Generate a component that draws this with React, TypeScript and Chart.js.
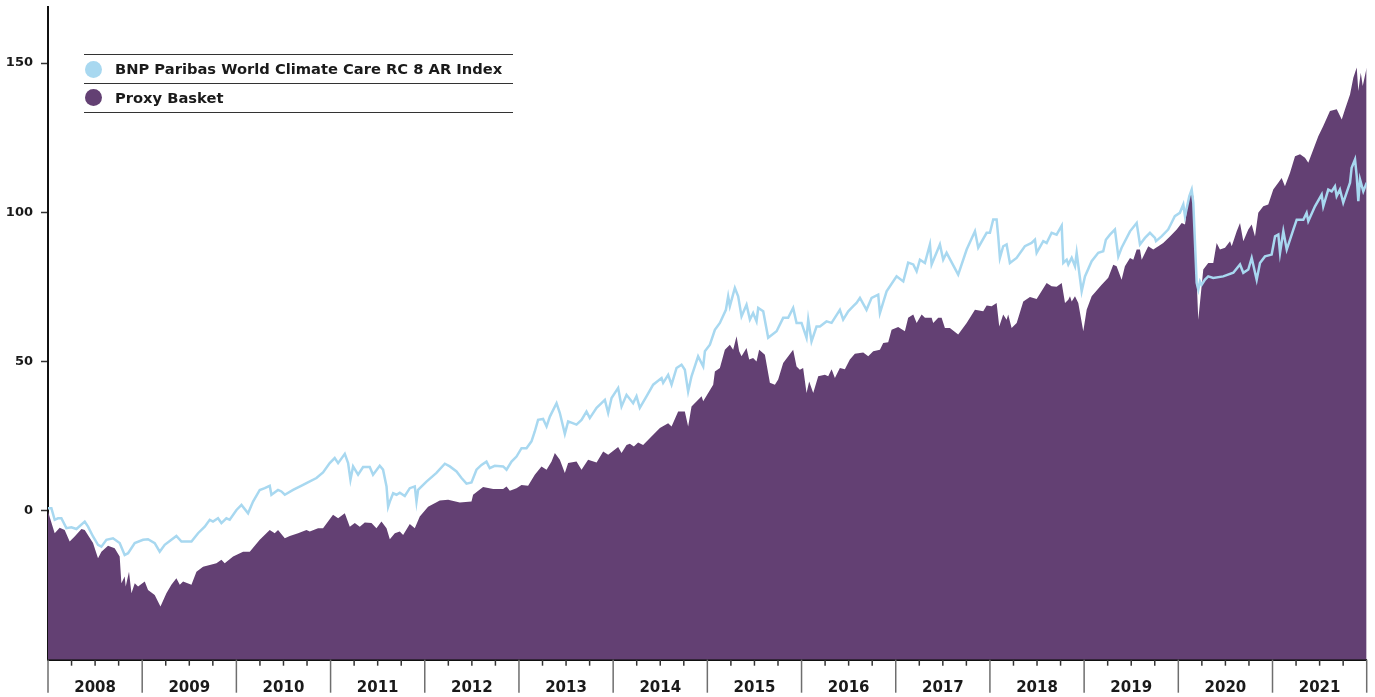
import React, { useEffect, useRef } from "react";
import { Chart, registerables } from "chart.js";

Chart.register(...registerables);

const seriesNames = ["BNP Paribas World Climate Care RC 8 AR Index", "Proxy Basket"];
const yTickValues = [0, 50, 100, 150];
const yearLabels = ["2008", "2009", "2010", "2011", "2012", "2013", "2014", "2015", "2016", "2017", "2018", "2019", "2020", "2021"];

const proxyDates = [
  2008.0, 2008.071, 2008.124, 2008.177, 2008.23, 2008.283, 2008.355, 2008.39, 2008.478, 2008.531,
  2008.567, 2008.637, 2008.708, 2008.761, 2008.779, 2008.814, 2008.825, 2008.86, 2008.886, 2008.921,
  2008.956, 2009.027, 2009.062, 2009.133, 2009.194, 2009.257, 2009.31, 2009.363, 2009.399, 2009.434,
  2009.523, 2009.576, 2009.646, 2009.788, 2009.841, 2009.876, 2009.965, 2010.071, 2010.142, 2010.248,
  2010.354, 2010.407, 2010.442, 2010.514, 2010.567, 2010.655, 2010.744, 2010.779, 2010.867, 2010.92,
  2011.026, 2011.08, 2011.151, 2011.204, 2011.257, 2011.31, 2011.363, 2011.434, 2011.487, 2011.54,
  2011.594, 2011.629, 2011.682, 2011.735, 2011.77, 2011.841, 2011.894, 2011.947, 2012.035, 2012.16,
  2012.248, 2012.372, 2012.496, 2012.513, 2012.619, 2012.726, 2012.832, 2012.868, 2012.903, 2012.974,
  2013.027, 2013.097, 2013.168, 2013.239, 2013.293, 2013.346, 2013.381, 2013.434, 2013.487, 2013.522,
  2013.611, 2013.664, 2013.734, 2013.824, 2013.894, 2013.947, 2014.053, 2014.089, 2014.142, 2014.177,
  2014.22, 2014.265, 2014.318, 2014.425, 2014.496, 2014.584, 2014.62, 2014.69, 2014.761, 2014.796,
  2014.832, 2014.939, 2014.956, 2015.009, 2015.062, 2015.08, 2015.133, 2015.186, 2015.239, 2015.274,
  2015.31, 2015.338, 2015.363, 2015.416, 2015.444, 2015.486, 2015.522, 2015.55, 2015.611, 2015.664,
  2015.717, 2015.752, 2015.805, 2015.911, 2015.947, 2015.982, 2016.017, 2016.053, 2016.081, 2016.124,
  2016.177, 2016.248, 2016.283, 2016.319, 2016.354, 2016.407, 2016.46, 2016.513, 2016.566, 2016.655,
  2016.708, 2016.761, 2016.832, 2016.867, 2016.92, 2016.956, 2017.026, 2017.097, 2017.132, 2017.186,
  2017.222, 2017.275, 2017.31, 2017.381, 2017.398, 2017.451, 2017.487, 2017.522, 2017.575, 2017.663,
  2017.753, 2017.841, 2017.929, 2017.965, 2018.018, 2018.071, 2018.099, 2018.141, 2018.177, 2018.194,
  2018.23, 2018.284, 2018.354, 2018.425, 2018.496, 2018.602, 2018.655, 2018.708, 2018.762, 2018.797,
  2018.832, 2018.85, 2018.868, 2018.903, 2018.938, 2018.991, 2019.027, 2019.08, 2019.186, 2019.256,
  2019.309, 2019.345, 2019.398, 2019.433, 2019.487, 2019.522, 2019.558, 2019.593, 2019.611, 2019.681,
  2019.734, 2019.788, 2019.84, 2019.911, 2019.983, 2020.036, 2020.071, 2020.106, 2020.142, 2020.159,
  2020.212, 2020.265, 2020.318, 2020.371, 2020.407, 2020.442, 2020.496, 2020.549, 2020.567, 2020.62,
  2020.655, 2020.69, 2020.743, 2020.779, 2020.814, 2020.849, 2020.902, 2020.955, 2021.008, 2021.061,
  2021.097, 2021.132, 2021.186, 2021.239, 2021.292, 2021.345, 2021.38, 2021.433, 2021.486, 2021.539,
  2021.61, 2021.682, 2021.735, 2021.77, 2021.823, 2021.858, 2021.894, 2021.911, 2021.937, 2021.958,
  2022.0,
];
const proxyValues = [
  -0.3, -7.6, -5.8, -6.5, -10.4, -8.7, -6.2, -6.5, -10.9, -16.0,
  -13.8, -11.8, -12.6, -15.4, -24.4, -22.1, -25.5, -20.5, -27.7, -24.4,
  -25.5, -23.8, -26.6, -28.3, -32.2, -27.7, -24.9, -22.7, -24.9, -23.8,
  -24.9, -20.5, -18.8, -17.7, -16.5, -17.7, -15.4, -13.8, -13.8, -9.8,
  -6.5, -7.6, -6.5, -9.3, -8.5, -7.6, -6.5, -7.0, -5.9, -5.9,
  -1.4, -2.6, -0.9, -5.4, -4.2, -5.4, -4.0, -4.2, -5.9, -3.7,
  -5.9, -9.6, -7.6, -7.0, -8.2, -4.5, -5.9, -2.0, 1.3, 3.4,
  3.6, 2.7, 3.0, 5.3, 7.9, 7.2, 7.2, 8.1, 6.6, 7.5,
  8.6, 8.3, 12.0, 14.8, 13.7, 16.4, 19.3, 17.0, 12.6, 15.9,
  16.4, 13.7, 17.0, 16.1, 19.8, 18.7, 21.3, 19.3, 22.0, 22.4,
  21.5, 22.8, 22.0, 25.4, 27.7, 29.3, 28.2, 33.2, 33.2, 28.2,
  34.9, 38.3, 36.6, 39.4, 42.2, 46.6, 47.8, 53.9, 55.6, 53.9,
  58.4, 53.4, 51.7, 54.5, 50.6, 51.1, 50.0, 53.9, 52.2, 42.8,
  42.2, 43.9, 49.5, 53.9, 48.3, 47.2, 47.8, 39.4, 43.3, 39.4,
  45.0, 45.5, 45.0, 47.4, 44.4, 47.8, 47.4, 50.6, 52.6, 53.0,
  51.7, 53.4, 53.9, 56.2, 56.4, 60.6, 61.5, 60.1, 64.6, 65.7,
  62.9, 65.7, 64.6, 64.6, 62.9, 64.6, 64.6, 61.2, 61.2, 59.0,
  62.9, 67.3, 66.8, 68.7, 68.5, 69.6, 61.7, 65.7, 64.0, 65.7,
  61.2, 62.9, 70.1, 71.6, 70.9, 76.3, 75.2, 75.0, 76.3, 69.6,
  70.7, 71.8, 70.1, 71.8, 69.6, 60.1, 67.3, 71.8, 75.7, 78.0,
  82.4, 81.9, 77.4, 81.9, 84.7, 84.1, 87.5, 87.5, 84.1, 88.6,
  87.5, 88.6, 89.7, 91.9, 94.2, 96.4, 95.9, 104.3, 107.6, 105.4,
  64.0, 80.8, 83.0, 83.0, 89.7, 87.5, 88.1, 90.3, 88.6, 93.6,
  96.4, 90.3, 94.2, 95.9, 91.9, 99.8, 102.0, 102.6, 107.6, 109.9,
  111.5, 108.7, 113.2, 118.8, 119.4, 118.3, 116.6, 121.0, 125.5, 128.9,
  133.9, 134.5, 131.1, 134.5, 139.5, 145.1, 148.5, 140.6, 146.8, 142.3,
  148.5,
];

const indexDates = [
  2008.0, 2008.036, 2008.071, 2008.106, 2008.142, 2008.195, 2008.248, 2008.302, 2008.39, 2008.425,
  2008.478, 2008.531, 2008.567, 2008.62, 2008.69, 2008.761, 2008.814, 2008.85, 2008.921, 2009.009,
  2009.062, 2009.133, 2009.186, 2009.239, 2009.31, 2009.363, 2009.417, 2009.523, 2009.593, 2009.664,
  2009.717, 2009.752, 2009.805, 2009.841, 2009.894, 2009.929, 2010.001, 2010.054, 2010.124, 2010.177,
  2010.248, 2010.301, 2010.354, 2010.372, 2010.442, 2010.478, 2010.514, 2010.602, 2010.708, 2010.744,
  2010.85, 2010.92, 2010.991, 2011.044, 2011.08, 2011.151, 2011.186, 2011.211, 2011.239, 2011.292,
  2011.345, 2011.416, 2011.451, 2011.522, 2011.557, 2011.594, 2011.611, 2011.629, 2011.664, 2011.7,
  2011.735, 2011.788, 2011.841, 2011.894, 2011.912, 2011.929, 2012.018, 2012.124, 2012.213, 2012.266,
  2012.337, 2012.39, 2012.443, 2012.496, 2012.549, 2012.602, 2012.655, 2012.69, 2012.743, 2012.832,
  2012.868, 2012.921, 2012.974, 2013.027, 2013.08, 2013.133, 2013.168, 2013.203, 2013.256, 2013.293,
  2013.328, 2013.399, 2013.434, 2013.487, 2013.522, 2013.611, 2013.664, 2013.717, 2013.752, 2013.824,
  2013.912, 2013.947, 2013.983, 2014.053, 2014.089, 2014.142, 2014.212, 2014.248, 2014.283, 2014.354,
  2014.425, 2014.514, 2014.531, 2014.584, 2014.62, 2014.673, 2014.726, 2014.761, 2014.796, 2014.832,
  2014.902, 2014.956, 2014.974, 2015.027, 2015.08, 2015.133, 2015.197, 2015.221, 2015.239, 2015.292,
  2015.327, 2015.363, 2015.416, 2015.452, 2015.486, 2015.522, 2015.54, 2015.593, 2015.646, 2015.735,
  2015.805, 2015.858, 2015.911, 2015.947, 2016.0, 2016.053, 2016.071, 2016.106, 2016.159, 2016.195,
  2016.265, 2016.319, 2016.407, 2016.442, 2016.496, 2016.549, 2016.584, 2016.62, 2016.69, 2016.744,
  2016.814, 2016.832, 2016.903, 2017.009, 2017.08, 2017.132, 2017.186, 2017.222, 2017.257, 2017.31,
  2017.363, 2017.381, 2017.469, 2017.504, 2017.54, 2017.663, 2017.753, 2017.841, 2017.876, 2017.965,
  2018.0, 2018.035, 2018.071, 2018.088, 2018.106, 2018.141, 2018.177, 2018.212, 2018.283, 2018.371,
  2018.442, 2018.478, 2018.496, 2018.566, 2018.602, 2018.655, 2018.708, 2018.762, 2018.779, 2018.815,
  2018.832, 2018.868, 2018.903, 2018.921, 2018.974, 2019.009, 2019.08, 2019.15, 2019.203, 2019.231,
  2019.274, 2019.327, 2019.363, 2019.398, 2019.487, 2019.558, 2019.593, 2019.646, 2019.699, 2019.752,
  2019.763, 2019.822, 2019.892, 2019.927, 2019.963, 2020.016, 2020.053, 2020.071, 2020.117, 2020.142,
  2020.159, 2020.195, 2020.212, 2020.23, 2020.248, 2020.283, 2020.318, 2020.371, 2020.477, 2020.584,
  2020.655, 2020.69, 2020.743, 2020.779, 2020.832, 2020.867, 2020.92, 2020.991, 2021.027, 2021.062,
  2021.08, 2021.115, 2021.151, 2021.221, 2021.257, 2021.327, 2021.362, 2021.38, 2021.451, 2021.522,
  2021.539, 2021.592, 2021.628, 2021.663, 2021.681, 2021.716, 2021.751, 2021.823, 2021.84, 2021.876,
  2021.894, 2021.911, 2021.929, 2021.964, 2022.0,
];
const indexValues = [
  0.8, 0.8, -3.1, -2.6, -2.6, -5.9, -5.6, -6.2, -3.7, -5.4,
  -8.7, -11.5, -12.1, -9.8, -9.3, -10.9, -14.9, -14.3, -10.9, -9.8,
  -9.6, -10.9, -13.8, -11.5, -9.8, -8.5, -10.4, -10.4, -7.6, -5.4,
  -3.1, -3.7, -2.6, -4.2, -2.6, -3.1, 0.2, 1.9, -0.9, 3.0,
  6.9, 7.5, 8.3, 5.3, 6.9, 6.4, 5.3, 6.9, 8.6, 9.2,
  10.9, 12.8, 15.9, 17.6, 15.9, 19.0, 15.9, 10.3, 14.8, 12.0,
  14.6, 14.6, 12.0, 15.0, 13.7, 8.1, 1.3, 3.0, 5.8, 5.3,
  6.0, 4.9, 7.5, 8.1, 3.0, 6.9, 9.7, 12.6, 15.7, 14.8,
  13.1, 10.9, 9.0, 9.4, 13.7, 15.3, 16.4, 14.2, 15.0, 14.8,
  13.7, 16.4, 18.1, 20.9, 20.9, 23.2, 26.5, 30.4, 30.7, 28.2,
  31.5, 36.0, 32.7, 25.7, 29.9, 28.8, 30.4, 33.2, 31.0, 34.4,
  37.1, 32.7, 37.7, 41.1, 34.9, 38.8, 36.0, 38.3, 34.4, 38.3,
  42.2, 44.4, 42.8, 45.5, 42.2, 47.8, 48.9, 47.2, 39.9, 45.0,
  51.7, 48.3, 53.4, 55.6, 60.6, 62.9, 67.3, 71.8, 68.5, 74.6,
  71.8, 65.1, 69.0, 64.0, 66.2, 63.4, 67.9, 66.8, 57.9, 60.1,
  64.6, 64.6, 67.9, 62.9, 62.9, 57.9, 64.0, 56.7, 61.7, 61.7,
  63.4, 62.9, 67.3, 64.0, 66.8, 68.5, 69.6, 71.3, 67.3, 71.3,
  72.4, 66.2, 73.5, 78.5, 76.8, 83.1, 82.5, 80.2, 84.1, 83.0,
  89.2, 82.5, 89.2, 84.1, 86.4, 79.1, 87.5, 93.6, 88.1, 93.1,
  93.1, 97.6, 97.6, 91.9, 84.7, 88.6, 89.2, 83.0, 84.7, 88.6,
  89.7, 90.8, 86.4, 90.3, 89.7, 93.1, 92.5, 95.5, 83.0, 84.1,
  82.5, 84.7, 81.9, 86.4, 73.5, 78.5, 83.6, 86.4, 86.9, 90.8,
  92.5, 94.2, 85.2, 88.1, 93.6, 96.4, 89.2, 91.4, 93.1, 91.4,
  90.3, 91.9, 94.2, 96.4, 98.7, 99.8, 102.6, 98.7, 105.4, 107.6,
  103.2, 76.3, 74.1, 76.8, 75.7, 77.4, 78.5, 78.0, 78.5, 79.7,
  82.5, 79.7, 80.8, 84.7, 77.4, 83.0, 85.2, 85.8, 91.9, 92.5,
  86.4, 93.6, 87.5, 94.2, 97.5, 97.5, 99.8, 97.0, 102.0, 105.9,
  102.0, 107.6, 107.0, 108.7, 105.4, 107.6, 103.2, 109.9, 114.9, 117.7,
  112.1, 103.7, 111.0, 107.0, 109.9,
];

const INDEX_COLOR = "#a8d8f0";
const PROXY_COLOR = "#634073";
const FONT = "'DejaVu Sans', 'Open Sans', sans-serif";

const xTicksPlugin = {
  id: "xTicksPlugin",
  afterDraw(chart: any) {
    const { ctx, chartArea, scales } = chart;
    const x = scales.x;
    const bottom = chartArea.bottom;
    ctx.save();
    for (let y = 2008; y <= 2022; y++) {
      const px = x.getPixelForValue(y);
      ctx.strokeStyle = "#6e6e6e";
      ctx.lineWidth = 1.5;
      ctx.beginPath();
      ctx.moveTo(px, bottom);
      ctx.lineTo(px, bottom + 33);
      ctx.stroke();
      if (y < 2022) {
        for (let q = 1; q < 4; q++) {
          const qx = x.getPixelForValue(y + q / 4);
          ctx.strokeStyle = "#333";
          ctx.lineWidth = 1.5;
          ctx.beginPath();
          ctx.moveTo(qx, bottom);
          ctx.lineTo(qx, bottom + 6);
          ctx.stroke();
        }
      }
    }
    ctx.restore();
  },
};

export default function App() {
  const canvasRef = useRef<HTMLCanvasElement | null>(null);

  useEffect(() => {
    const canvas = canvasRef.current;
    if (!canvas) return;
    const indexData = indexDates.map((d, i) => ({ x: d, y: indexValues[i] }));
    const proxyData = proxyDates.map((d, i) => ({ x: d, y: proxyValues[i] }));

    const chart = new Chart(canvas, {
      type: "line",
      data: {
        datasets: [
          {
            label: seriesNames[0],
            data: indexData,
            borderColor: INDEX_COLOR,
            borderWidth: 2.5,
            pointRadius: 0,
            fill: false,
            tension: 0,
          },
          {
            label: seriesNames[1],
            data: proxyData,
            borderColor: PROXY_COLOR,
            borderWidth: 0,
            backgroundColor: PROXY_COLOR,
            pointRadius: 0,
            fill: "start",
            tension: 0,
          },
        ],
      },
      options: {
        responsive: false,
        animation: false,
        devicePixelRatio: 1,
        layout: { padding: { top: 7.3, right: 8.3, left: 0, bottom: 0 } },
        plugins: { legend: { display: false }, tooltip: { enabled: false } },
        scales: {
          x: {
            type: "linear",
            min: 2008,
            max: 2022,
            afterFit: (s: any) => {
              s.height = 37.3;
              s.paddingLeft = 0;
              s.paddingRight = 0;
            },
            grid: {
              display: true,
              drawOnChartArea: false,
              drawTicks: true,
              tickLength: 19,
              tickColor: "rgba(0,0,0,0)",
            },
            border: { display: true, color: "#111", width: 2 },
            ticks: {
              stepSize: 0.5,
              autoSkip: false,
              maxRotation: 0,
              padding: 0,
              color: "#1a1a1a",
              font: { family: FONT, size: 15, weight: "bold" },
              callback: (v: any) => {
                const n = Number(v);
                const f = Math.round((n - Math.floor(n)) * 100);
                if (f === 50) {
                  const idx = Math.floor(n) - 2008;
                  return yearLabels[idx] ?? null;
                }
                return null;
              },
            },
          },
          y: {
            min: -50,
            max: 168.7,
            afterFit: (s: any) => {
              s.width = 48;
              s.paddingTop = 0;
              s.paddingBottom = 0;
            },
            grid: {
              drawOnChartArea: false,
              drawTicks: true,
              tickLength: 7,
              tickWidth: 1.5,
              tickColor: (c: any) =>
                c.tick && yTickValues.includes(c.tick.value) ? "#333" : "rgba(0,0,0,0)",
            },
            border: { display: true, color: "#111", width: 2 },
            ticks: {
              stepSize: 50,
              padding: 8,
              color: "#1a1a1a",
              font: { family: FONT, size: 13, weight: "bold" },
              callback: (v: any) => (yTickValues.includes(Number(v)) ? String(v) : null),
            },
          },
        },
      },
      plugins: [xTicksPlugin],
    });
    return () => chart.destroy();
  }, []);

  const lineStyle = (top: number): React.CSSProperties => ({
    position: "absolute",
    left: 84,
    top,
    width: 429,
    height: 0,
    borderTop: "1px solid #333",
  });
  const rowStyle = (center: number): React.CSSProperties => ({
    position: "absolute",
    left: 85,
    top: center - 10,
    height: 20,
    display: "flex",
    alignItems: "center",
    whiteSpace: "nowrap",
  });
  const dot = (color: string): React.CSSProperties => ({
    width: 17,
    height: 17,
    borderRadius: "50%",
    background: color,
    marginRight: 13,
    flex: "0 0 auto",
  });
  const textStyle: React.CSSProperties = {
    fontFamily: FONT,
    fontWeight: 700,
    fontSize: 14.7,
    color: "#1a1a1a",
    lineHeight: "20px",
  };

  return (
    <div style={{ position: "absolute", left: 0, top: 0, width: 1375, height: 697, background: "#fff" }}>
      <canvas ref={canvasRef} width={1375} height={697} style={{ position: "absolute", left: 0, top: 0 }} />
      <div style={lineStyle(54)} />
      <div style={lineStyle(83)} />
      <div style={lineStyle(112)} />
      <div style={rowStyle(69)}>
        <div style={dot(INDEX_COLOR)} />
        <span style={textStyle}>{seriesNames[0]}</span>
      </div>
      <div style={rowStyle(97.5)}>
        <div style={dot(PROXY_COLOR)} />
        <span style={textStyle}>{seriesNames[1]}</span>
      </div>
    </div>
  );
}
